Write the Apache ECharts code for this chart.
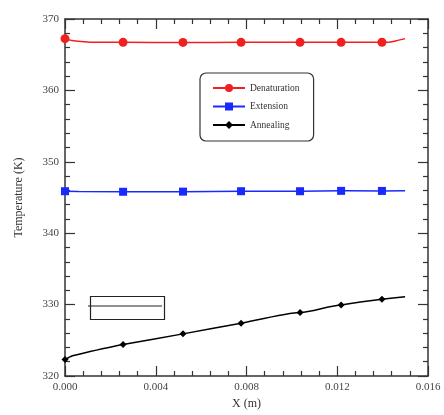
<!DOCTYPE html>
<html>
<head>
<meta charset="utf-8">
<script src="https://cdn.jsdelivr.net/npm/echarts@6/dist/echarts.min.js"></script>
<style>html,body{margin:0;padding:0;background:#fff;}#c{width:444px;height:415px;}</style>
</head>
<body>
<div id="c"></div>
<script>
// Data (x in metres, temperature in K)
const xTicks = [0, 0.004, 0.008, 0.012, 0.016];
const denatCurve = [[0,367.25],[0.0003,367.0],[0.0007,366.85],[0.0012,366.75],[0.01424,366.75],[0.0146,366.95],[0.01499,367.25]];
const denatMarkers = [[0,367.25],[0.00256,366.73],[0.0052,366.72],[0.00776,366.73],[0.01036,366.73],[0.01217,366.73],[0.01397,366.75]];
const extCurve = [[0,345.88],[0.0006,345.85],[0.0125,345.93],[0.01499,345.95]];
const extMarkers = [[0,345.88],[0.00256,345.8],[0.0052,345.82],[0.00776,345.88],[0.01036,345.88],[0.01217,345.93],[0.01397,345.92]];
const annCurve = [[0,322.3],[0.0003,322.8],[0.0008,323.2],[0.0104,328.9],[0.0122,329.95],[0.0131,330.4],[0.01499,331.1]];
const annMarkers = [[0,322.3],[0.00256,324.4],[0.0052,325.9],[0.00776,327.4],[0.01036,328.9],[0.01217,329.95],[0.01397,330.75]];
const seriesNames = ['Denaturation', 'Extension', 'Annealing'];

function merge(curve, markers, size) {
  const pts = curve.map(p => ({value: p, symbolSize: 0}))
    .concat(markers.map(p => ({value: p, symbolSize: size})));
  pts.sort((a, b) => a.value[0] - b.value[0] || (b.symbolSize - a.symbolSize));
  return pts;
}

const chart = echarts.init(document.getElementById('c'));
const font = 'Liberation Serif, Times New Roman, serif';
const axisColor = '#333';
const commonAxis = {
  axisLine: {show: true, onZero: false, lineStyle: {color: axisColor, width: 1.5}},
  axisTick: {show: true, inside: true, length: 10, lineStyle: {color: axisColor, width: 1.2}},
  minorTick: {show: true, splitNumber: 5, length: 5, lineStyle: {color: axisColor, width: 1.2}},
  splitLine: {show: false}
};
chart.setOption({
  animation: false,
  backgroundColor: '#fff',
  grid: {left: 65, right: 16, top: 19, bottom: 33},
  legend: {
    data: seriesNames,
    orient: 'vertical',
    left: 200, top: 73,
    padding: [10, 14, 11, 12],
    itemGap: 8.5,
    itemWidth: 32, itemHeight: 10,
    borderColor: '#333', borderWidth: 1.2, borderRadius: 6,
    textStyle: {fontFamily: font, fontSize: 9.5, color: '#333'}
  },
  xAxis: [
    Object.assign({}, commonAxis, {
      type: 'value', min: 0, max: 0.016, interval: 0.004, position: 'bottom',
      name: 'X (m)', nameLocation: 'middle', nameGap: 22,
      nameTextStyle: {fontFamily: font, fontSize: 12, color: '#333'},
      axisLabel: {fontFamily: font, fontSize: 11, color: '#444', margin: 6,
        formatter: v => v.toFixed(3)}
    }),
    Object.assign({}, commonAxis, {
      type: 'value', min: 0, max: 0.016, interval: 0.004, position: 'top',
      axisLabel: {show: false}
    })
  ],
  yAxis: [
    Object.assign({}, commonAxis, {
      type: 'value', min: 320, max: 370, interval: 10, position: 'left',
      name: 'Temperature (K)', nameLocation: 'middle', nameGap: 40,
      nameTextStyle: {fontFamily: font, fontSize: 12, color: '#333'},
      axisLabel: {fontFamily: font, fontSize: 11, color: '#444', margin: 6}
    }),
    Object.assign({}, commonAxis, {
      type: 'value', min: 320, max: 370, interval: 10, position: 'right',
      axisLabel: {show: false}
    })
  ],
  series: [
    {name: seriesNames[0], type: 'line', symbol: 'circle', symbolSize: 9, showAllSymbol: true,
     smooth: 0.3, color: '#f02020', lineStyle: {width: 1.5}, data: merge(denatCurve, denatMarkers, 9)},
    {name: seriesNames[1], type: 'line', symbol: 'rect', symbolSize: 8, showAllSymbol: true,
     color: '#1a2aff', lineStyle: {width: 1.5}, data: merge(extCurve, extMarkers, 8)},
    {name: seriesNames[2], type: 'line', symbol: 'diamond', symbolSize: 7, showAllSymbol: true,
     smooth: 0.2, color: '#000', lineStyle: {width: 1.5}, data: merge(annCurve, annMarkers, 7)}
  ],
  graphic: [
    {type: 'rect', left: 88, top: 294, shape: {width: 74, height: 23},
     style: {fill: 'none', stroke: '#222', lineWidth: 1.2}},
    {type: 'line', shape: {x1: 88, y1: 306, x2: 162, y2: 306},
     style: {stroke: '#222', lineWidth: 1.2}}
  ]
});
</script>
</body>
</html>
